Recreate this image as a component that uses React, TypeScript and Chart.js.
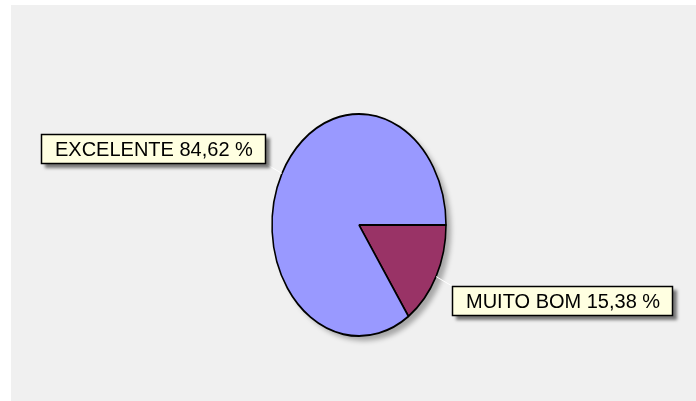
import { useEffect, useRef } from 'react';
import { Chart, registerables } from 'chart.js';

Chart.register(...registerables);

const categories = ['MUITO BOM', 'EXCELENTE'];
const percentages = [15.38, 84.62];
const sliceColors = ['#993366', '#9999FF'];

const SX = 87 / 111; // horizontal squash to turn the pie into an ellipse

export default function App() {
  const ref = useRef<HTMLCanvasElement>(null);

  useEffect(() => {
    document.body.style.margin = '0';
    const canvas = ref.current;
    if (!canvas) return;

    const ellipsePlugin = {
      id: 'ellipse',
      beforeDatasetsDraw(chart: any) {
        const arc = chart.getDatasetMeta(0).data[0];
        if (!arc) return;
        const { x, y, outerRadius } = arc.getProps(['x', 'y', 'outerRadius'], true);
        const ctx = chart.ctx;
        ctx.save();
        ctx.fillStyle = 'rgba(0,0,0,0.3)';
        ctx.filter = 'blur(2.5px)';
        ctx.beginPath();
        ctx.ellipse(x + 5, y + 5, outerRadius * SX, outerRadius, 0, 0, Math.PI * 2);
        ctx.fill();
        ctx.restore();
        ctx.save();
        ctx.translate(x, y);
        ctx.scale(SX, 1);
        ctx.translate(-x, -y);
      },
      afterDatasetsDraw(chart: any) {
        chart.ctx.restore();
      },
    };

    const labelPlugin = {
      id: 'boxLabels',
      afterDraw(chart: any) {
        const ctx = chart.ctx;
        const meta = chart.getDatasetMeta(0);
        meta.data.forEach((arc: any, i: number) => {
          const { x, y, startAngle, endAngle, outerRadius } = arc.getProps(
            ['x', 'y', 'startAngle', 'endAngle', 'outerRadius'],
            true
          );
          const mid = (startAngle + endAngle) / 2;
          const ax = x + Math.cos(mid) * outerRadius * SX;
          const ay = y + Math.sin(mid) * outerRadius;
          const text = `${categories[i]} ${percentages[i].toFixed(2).replace('.', ',')} %`;
          ctx.save();
          ctx.font = '20px "Liberation Sans", Arial, sans-serif';
          const tw = ctx.measureText(text).width;
          const w = Math.round(tw + 27);
          const h = 30;
          const right = Math.cos(mid) >= 0;
          const down = Math.sin(mid) >= 0;
          const bx = Math.round(right ? ax + 16 : ax - 16 - w);
          const by = Math.round(ay + (down ? 24 : -24) - h / 2);

          // leader line
          const cx = right ? bx : bx + w;
          const cy = down ? by : by + h;
          ctx.strokeStyle = '#ffffff';
          ctx.lineWidth = 1;
          ctx.beginPath();
          ctx.moveTo(ax, ay);
          ctx.lineTo(cx, cy);
          ctx.stroke();

          // box with shadow
          ctx.shadowColor = 'rgba(0,0,0,0.5)';
          ctx.shadowOffsetX = 4;
          ctx.shadowOffsetY = 4;
          ctx.shadowBlur = 3;
          ctx.fillStyle = '#FFFFE1';
          ctx.fillRect(bx, by, w, h);
          ctx.shadowColor = 'transparent';
          ctx.strokeStyle = '#000000';
          ctx.lineWidth = 1.5;
          ctx.strokeRect(bx + 0.5, by + 0.5, w - 1, h - 1);

          ctx.fillStyle = '#000000';
          ctx.textBaseline = 'middle';
          ctx.textAlign = 'left';
          ctx.fillText(text, bx + 14, by + h / 2 + 1);
          ctx.restore();
        });
      },
    };

    const chart = new Chart(canvas, {
      type: 'pie',
      data: {
        labels: categories,
        datasets: [
          {
            data: percentages,
            backgroundColor: sliceColors,
            borderColor: '#000000',
            borderWidth: 2,
            hoverOffset: 0,
            clip: false as any,
          },
        ],
      },
      options: {
        responsive: false,
        animation: false,
        rotation: 90,
        radius: 111,
        layout: { padding: { top: 114, bottom: 65, left: 248, right: 226 } },
        plugins: {
          legend: { display: false },
          tooltip: { enabled: false },
        },
        events: [],
      },
      plugins: [ellipsePlugin, labelPlugin],
    });

    return () => chart.destroy();
  }, []);

  return (
    <div style={{ position: 'absolute', left: 0, top: 0, width: 696, height: 401, background: '#ffffff' }}>
      <div style={{ position: 'absolute', left: 11, top: 5, right: 0, bottom: 0, background: '#f0f0f0' }} />
      <canvas ref={ref} width={696} height={401} style={{ position: 'absolute', left: 0, top: 0 }} />
    </div>
  );
}
